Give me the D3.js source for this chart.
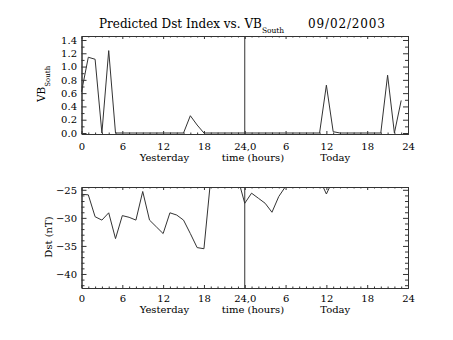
<!DOCTYPE html>
<html><head><meta charset="utf-8">
<script src="https://cdn.jsdelivr.net/npm/d3@7"></script>
<style>body{margin:0;background:#fff}svg{display:block}text{font-family:"DejaVu Serif",serif;fill:#000}</style>
</head><body><svg id="c" width="453" height="340"></svg>
<script>
// Hours 0..23 = yesterday, 24..47 = today
const hours = d3.range(0, 48);
const vbSouth = [0.62,1.14,1.11,0,1.24,0,0,0,0,0,0,0,0,0,0,0,0.26,0.12,0,0,0,0,0,0,
                 0,0,0,0,0,0,0,0,0,0,0,0,0.72,0.02,0,0,0,0,0,0,0,0.87,0,0.49];
const dst = [-25.8,-25.9,-29.8,-30.4,-29.1,-33.7,-29.6,-29.9,-30.4,-25.3,-30.4,-31.6,-32.8,-29.1,-29.5,-30.4,-32.8,-35.3,-35.5,-23,-22,-21,-21,-23,
             -27.4,-25.6,-26.5,-27.4,-29.0,-26.2,-24.4,-24.5,-23,-22,-23,-23.1,-25.75,-23.2,-22,-21,-21,-20,-20,-21,-22,-22,-21,-21];
const xTickVals = [0,6,12,18,24,30,36,42,48];
const xTickLabels = ["0","6","12","18","24,0","6","12","18","24"];
const vbTicks = [0,0.2,0.4,0.6,0.8,1.0,1.2,1.4];
const dstTicks = [-25,-30,-35,-40];

const svg = d3.select("#c");
const X0 = 81.5, X1 = 408;
const x = d3.scaleLinear().domain([0,48]).range([X0,X1]);
const y1 = d3.scaleLinear().domain([-0.015,1.46]).range([134,36]);
const y2 = d3.scaleLinear().domain([-42.5,-24.5]).range([288,187]);
const col = "#333";
const tickFont = "Liberation Serif";

function panel(id, y, yTicks, yMinor, fmt, data, labOff, titleOff) {
  const yb = y.range()[0], yt = y.range()[1];
  const g = svg.append("g");
  g.append("clipPath").attr("id", id).append("rect")
    .attr("x", X0 - 1).attr("y", yt).attr("width", X1 - X0 + 2).attr("height", yb - yt);
  const xm = d3.range(0, 49).filter(v => v % 6 !== 0);
  const mk = (axis, tr) => g.append("g").attr("transform", tr).call(axis.tickSizeOuter(0));
  // minor ticks
  mk(d3.axisBottom(x).tickValues(xm).tickSizeInner(-1.5).tickFormat(""), `translate(0,${yb})`);
  mk(d3.axisTop(x).tickValues(xm).tickSizeInner(-1.5).tickFormat(""), `translate(0,${yt})`);
  mk(d3.axisLeft(y).tickValues(yMinor).tickSizeInner(-3).tickFormat(""), `translate(${X0},0)`);
  mk(d3.axisRight(y).tickValues(yMinor).tickSizeInner(-3).tickFormat(""), `translate(${X1},0)`);
  // major ticks
  mk(d3.axisBottom(x).tickValues(xTickVals).tickSizeInner(-3).tickPadding(0).tickFormat((d,i) => xTickLabels[i]), `translate(0,${yb})`)
    .selectAll(".tick text").attr("y", labOff).attr("dy", null);
  mk(d3.axisTop(x).tickValues(xTickVals).tickSizeInner(-3).tickFormat(""), `translate(0,${yt})`);
  mk(d3.axisLeft(y).tickValues(yTicks).tickSizeInner(-5).tickPadding(4.5).tickFormat(fmt), `translate(${X0},0)`);
  mk(d3.axisRight(y).tickValues(yTicks).tickSizeInner(-5).tickFormat(""), `translate(${X1},0)`);
  g.selectAll(".domain").attr("stroke", col);
  g.selectAll(".tick line").attr("stroke", col);
  g.selectAll(".tick text").attr("font-family", tickFont).attr("font-size", 10).attr("fill","#000");
  // divider between yesterday and today (clipped to the plot area)
  g.append("line").attr("clip-path", `url(#${id})`)
    .attr("x1", x(24)).attr("x2", x(24)).attr("y1", yt).attr("y2", yb)
    .attr("stroke", col).attr("stroke-width", 1);
  // data line
  g.append("path").datum(hours.map((h,i) => [h, data[i]]))
    .attr("clip-path", `url(#${id})`)
    .attr("fill", "none").attr("stroke", col).attr("stroke-width", 1)
    .attr("d", d3.line().x(d => x(d[0])).y(d => y(d[1])));
  // x axis titles
  const ty = yb + titleOff;
  g.append("text").attr("x", x(12.2)).attr("y", ty).attr("text-anchor","middle").attr("font-size", 10).text("Yesterday");
  g.append("text").attr("x", x(25.2)).attr("y", ty).attr("text-anchor","middle").attr("font-size", 10).text("time (hours)");
  g.append("text").attr("x", x(37.3)).attr("y", ty).attr("text-anchor","middle").attr("font-size", 10).text("Today");
}

panel("c1", y1, vbTicks, d3.range(0, 15).map(v => v/10).filter(v => Math.round(v*10) % 2 !== 0),
  d => d3.format(".1f")(d), vbSouth, 16, 26.7);
panel("c2", y2, dstTicks, d3.range(-42, -24).filter(v => v % 5 !== 0),
  d => "\u2212" + Math.abs(d), dst, 14, 25.3);

// title
const t = svg.append("text").attr("x", 99).attr("y", 28).attr("font-size", 12);
t.append("tspan").text("Predicted Dst Index vs. VB");
t.append("tspan").attr("font-size", 7.5).attr("dy", 5).text("South");
svg.append("text").attr("x", 308).attr("y", 28).attr("font-size", 12)
  .attr("textLength", 77).attr("lengthAdjust", "spacing").text("09/02/2003");

// y titles
const yl = svg.append("text").attr("transform", "translate(45,102) rotate(-90)").attr("font-size", 10.5);
yl.append("tspan").text("VB");
yl.append("tspan").attr("font-size", 7).attr("dy", 5).text("South");
svg.append("text").attr("transform", "translate(52,237) rotate(-90)").attr("text-anchor","middle")
  .attr("font-size", 10).text("Dst (nT)");
</script></body></html>
